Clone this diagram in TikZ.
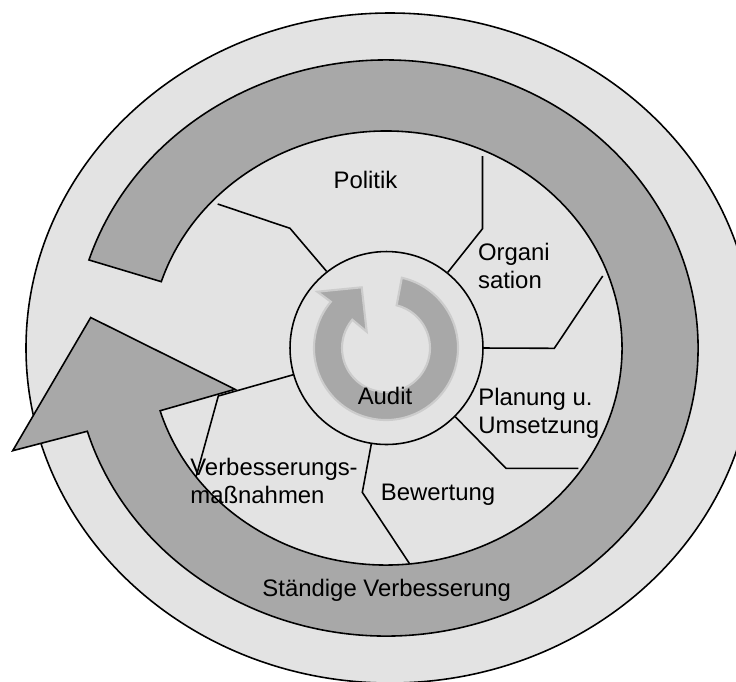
\documentclass[tikz,border=0pt]{standalone}
\usepackage{fontspec}
\setmainfont{Liberation Sans}
\usepackage{tikz}
\usetikzlibrary{calc}
\definecolor{palegray}{gray}{0.89}
\definecolor{bandgray}{gray}{0.66}
\definecolor{rimgray}{gray}{0.80}
\tikzstyle{lbl} = [inner sep=0pt, font=\fontsize{13.6}{15.4}\selectfont, text=black]
\tikzstyle{steplbl} = [lbl, align=left, anchor=base west]
\tikzstyle{rim} = [draw=black, line width=0.9pt]
\tikzstyle{divider} = [line width=0.9pt]
\tikzstyle{hubnode} = [circle, draw=black, line width=0.9pt, fill=palegray, minimum size=3.86cm, inner sep=0pt]

\begin{document}
\begin{tikzpicture}[x=0.02cm, y=-0.02cm]
	\clip (0,0) rectangle (736,681);
	\fill[white] (0,0) rectangle (736,681);
	\draw[rim, fill=palegray] (390,348) ellipse [x radius=364, y radius=335];

	\coordinate (c) at (386,348);
	\path (c) ++(197.8:312 and 288) coordinate (tailout)
	      (c) ++(523.2:236 and 217) coordinate (headin);
	\draw[rim, fill=bandgray] (tailout) arc[start angle=197.8, end angle=523.2, x radius=312, y radius=288]
		-- (12.7,450.7) -- (90.7,317.5) -- (235,389.3)
		-- (headin) arc[start angle=523.2, end angle=197.8, x radius=236, y radius=217] -- cycle;

	\node (hub) [hubnode] at (386.5,348) {};
	\path (c) ++(-77.3:72) coordinate (iconout)
	      (c) ++(220:44) coordinate (iconin);
	\draw[draw=rimgray, line width=1.2pt, fill=bandgray] (iconout) arc[start angle=-77.3, end angle=220, radius=72]
		-- (317.3,291.7) -- (361.7,287.3) -- (366.7,331.7)
		-- (iconin) arc[start angle=220, end angle=-76, radius=44] -- cycle;

	\coordinate (a1) at (217.7,204);   \coordinate (a2) at (290,228.3);
	\coordinate (b1) at (482.5,156);   \coordinate (b2) at (482.5,228.7);
	\coordinate (c1) at (602.7,276);   \coordinate (c2) at (554.3,348.3);
	\coordinate (d1) at (578.3,468.3); \coordinate (d2) at (506,468.3);
	\coordinate (e1) at (409.3,563.3); \coordinate (e2) at (362.3,492.3);
	\coordinate (f1) at (196,477);     \coordinate (f2) at (218.3,396);
	\draw [divider] (a1) -- (a2) -- (hub.128.9);
	\draw [divider] (b1) -- (b2) -- (hub.51.1);
	\draw [divider] (c1) -- (c2) -- (hub.0);
	\draw [divider] (d1) -- (d2) -- (hub.-45);
	\draw [divider] (e1) -- (e2) -- (hub.-99.7);
	\draw [divider] (f1) -- (f2) -- (hub.196.7);

	\node (politik) [lbl, anchor=base] at (365.5,188) {Politik};
	\node (orga) [steplbl] at (477.7,288) {Organi\\sation};
	\node (plan) [steplbl] at (478,433) {Planung u.\\Umsetzung};
	\node (audit) [lbl, anchor=base] at (385,404) {Audit};
	\node (bewert) [lbl, anchor=base] at (438,500) {Bewertung};
	\node (massn) [steplbl] at (190,503) {Verbesserungs-\\maßnahmen};
	\node (kvp) [lbl, anchor=base] at (386.7,596) {Ständige Verbesserung};
\end{tikzpicture}
\end{document}
